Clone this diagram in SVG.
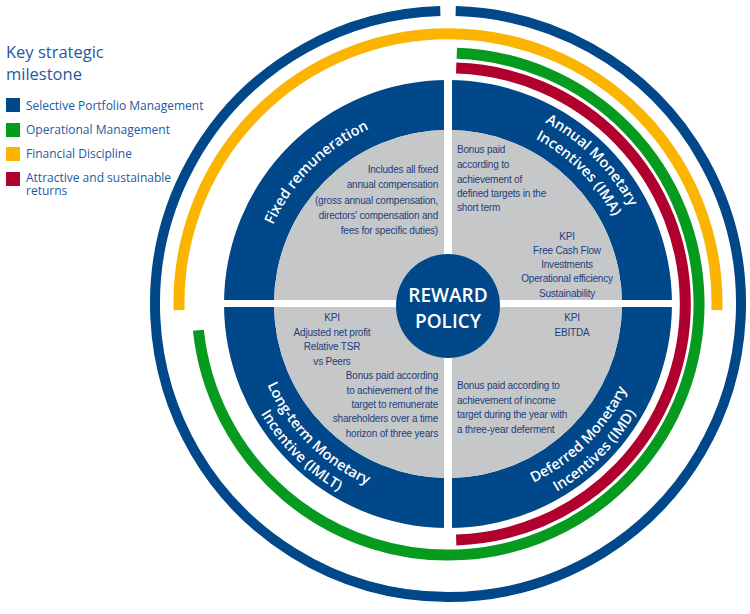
<svg xmlns="http://www.w3.org/2000/svg" width="750" height="614" viewBox="0 0 750 614">
<style>
.arc{fill:none;stroke-linecap:butt}
.blue{fill:#00488a}
.grey{fill:#c6c7c9}
.lbl{font-family:"Open Sans","Liberation Sans",sans-serif;font-size:14.5px;fill:#fff;font-weight:600}
.body{font-family:"Liberation Sans Narrow","Liberation Sans",sans-serif;font-size:10px;fill:#1b3f7c;letter-spacing:-0.2px}
.leg{font-family:"Open Sans","Liberation Sans",sans-serif;font-size:12px;fill:#1b5aa0}
.ttl{font-family:"Open Sans","Liberation Sans",sans-serif;font-size:16.5px;fill:#1b5aa0}
.ctr{font-family:"Open Sans","Liberation Sans",sans-serif;font-size:19px;fill:#fff;font-weight:600}
</style>
<defs>
<path id="pUL" d="M256,304 A192,192 0 0 1 448,112"/>
<path id="pUR1" d="M448,98 A206,206 0 0 1 654,304"/>
<path id="pUR2" d="M448,117 A187,187 0 0 1 635,304"/>
<path id="pLR1" d="M448,502 A198,198 0 0 0 646,304"/>
<path id="pLR2" d="M448,521 A217,217 0 0 0 665,304"/>
<path id="pLL1" d="M250,304 A198,198 0 0 0 448,502"/>
<path id="pLL2" d="M231,304 A217,217 0 0 0 448,521"/>
</defs>
<rect width="750" height="614" fill="#fff"/>
<g id="legend">
<text class="ttl" x="6" y="58">Key strategic</text>
<text class="ttl" x="6" y="80">milestone</text>
<rect x="6" y="98" width="14" height="14" fill="#00488a"/>
<text class="leg" x="26" y="110">Selective Portfolio Management</text>
<rect x="6" y="123" width="14" height="14" fill="#069a1e"/>
<text class="leg" x="26" y="134">Operational Management</text>
<rect x="6" y="147" width="14" height="14" fill="#fbb400"/>
<text class="leg" x="26" y="158">Financial Discipline</text>
<rect x="6" y="172" width="14" height="14" fill="#b0002e"/>
<text class="leg" x="26" y="182">Attractive and sustainable</text>
<text class="leg" x="26" y="195">returns</text>
</g>
<g id="rings">
<path class="arc" stroke="#00488a" stroke-width="10" d="M455.7,11.1 A293,293 0 1 1 440.3,11.1"/>
<path class="arc" stroke="#fbb400" stroke-width="11" d="M179.1,310.1 A269,269 0 1 1 716.9,310.1"/>
<path class="arc" stroke="#069a1e" stroke-width="11" d="M456.8,53.2 A251,251 0 1 1 198.4,330.2"/>
<path class="arc" stroke="#b0002e" stroke-width="11" d="M456.2,68.1 A236,236 0 0 1 456.2,539.9"/>
</g>
<g id="fixed">
<path class="blue" d="M224,304 A224,224 0 0 1 448,80 L448,130 A174,174 0 0 0 274,304 Z"/>
<path class="grey" d="M448,304 L274,304 A174,174 0 0 1 448,130 Z"/>
<text class="lbl"><textPath href="#pUL" startOffset="50%" text-anchor="middle">Fixed remuneration</textPath></text>
<g class="body" text-anchor="end">
<text x="438" y="173">Includes all fixed</text>
<text x="438" y="188">annual compensation</text>
<text x="438" y="204">(gross annual compensation,</text>
<text x="438" y="219">directors' compensation and</text>
<text x="438" y="234">fees for specific duties)</text>
</g>
</g>
<g id="ima">
<path class="blue" d="M448,80 A224,224 0 0 1 672,304 L622,304 A174,174 0 0 0 448,130 Z"/>
<path class="grey" d="M448,304 L448,130 A174,174 0 0 1 622,304 Z"/>
<text class="lbl"><textPath href="#pUR1" startOffset="50%" text-anchor="middle">Annual Monetary</textPath></text>
<text class="lbl"><textPath href="#pUR2" startOffset="50%" text-anchor="middle">Incentives (IMA)</textPath></text>
<g class="body">
<text x="457" y="153">Bonus paid</text>
<text x="457" y="168">according to</text>
<text x="457" y="183">achievement of</text>
<text x="457" y="197">defined targets in the</text>
<text x="457" y="211">short term</text>
</g>
<g class="body" text-anchor="middle">
<text x="567" y="240">KPI</text>
<text x="567" y="254">Free Cash Flow</text>
<text x="567" y="268">Investments</text>
<text x="567" y="282">Operational efficiency</text>
<text x="567" y="297">Sustainability</text>
</g>
</g>
<g id="imd">
<path class="blue" d="M672,304 A224,224 0 0 1 448,528 L448,478 A174,174 0 0 0 622,304 Z"/>
<path class="grey" d="M448,304 L622,304 A174,174 0 0 1 448,478 Z"/>
<text class="lbl"><textPath href="#pLR1" startOffset="50%" text-anchor="middle">Deferred Monetary</textPath></text>
<text class="lbl"><textPath href="#pLR2" startOffset="50%" text-anchor="middle">Incentives (IMD)</textPath></text>
<g class="body" text-anchor="middle">
<text x="572" y="321">KPI</text>
<text x="572" y="336">EBITDA</text>
</g>
<g class="body">
<text x="457" y="389">Bonus paid according to</text>
<text x="457" y="404">achievement of income</text>
<text x="457" y="418">target during the year with</text>
<text x="457" y="433">a three-year deferment</text>
</g>
</g>
<g id="imlt">
<path class="blue" d="M448,528 A224,224 0 0 1 224,304 L274,304 A174,174 0 0 0 448,478 Z"/>
<path class="grey" d="M448,304 L448,478 A174,174 0 0 1 274,304 Z"/>
<text class="lbl"><textPath href="#pLL1" startOffset="50%" text-anchor="middle">Long-term Monetary</textPath></text>
<text class="lbl"><textPath href="#pLL2" startOffset="50%" text-anchor="middle">Incentive (IMLT)</textPath></text>
<g class="body" text-anchor="middle">
<text x="332" y="321">KPI</text>
<text x="332" y="336">Adjusted net profit</text>
<text x="332" y="350">Relative TSR</text>
<text x="332" y="365">vs Peers</text>
</g>
<g class="body" text-anchor="end">
<text x="438" y="379">Bonus paid according</text>
<text x="438" y="394">to achievement of the</text>
<text x="438" y="408">target to remunerate</text>
<text x="438" y="422">shareholders over a time</text>
<text x="438" y="437">horizon of three years</text>
</g>
</g>
<g id="dividers" fill="#fff">
<rect x="444" y="76" width="8" height="456"/>
<rect x="220" y="300" width="456" height="7"/>
</g>
<g id="center">
<circle cx="448" cy="306" r="52" fill="#00488a"/>
<text class="ctr" x="448" y="302" text-anchor="middle">REWARD</text>
<text class="ctr" x="448" y="328" text-anchor="middle">POLICY</text>
</g>
</svg>
